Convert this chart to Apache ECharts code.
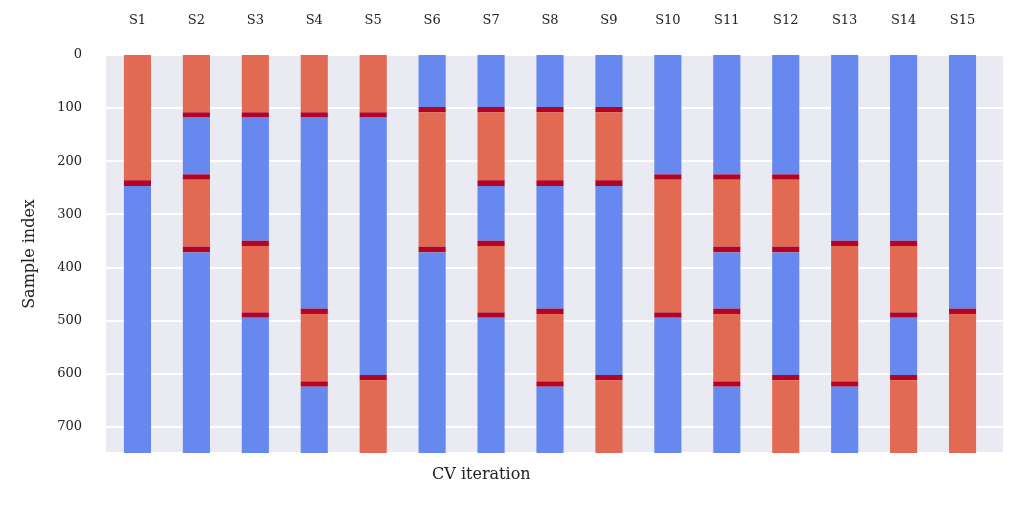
<!DOCTYPE html>
<html>
<head>
<meta charset="utf-8">
<script src="https://cdn.jsdelivr.net/npm/echarts@6/dist/echarts.min.js"></script>
<style>html,body{margin:0;background:#fff}#c{width:1024px;height:512px}</style>
</head>
<body>
<div id="c"></div>
<script>
// splits: boundaries and segment kinds (B = train, R = test, D = purged)
const splits = ['S1','S2','S3','S4','S5','S6','S7','S8','S9','S10','S11','S12','S13','S14','S15']
const bounds = [
  [0,236,247,750],
  [0,108,118,225,235,361,372,750],
  [0,108,118,350,360,485,495,750],
  [0,108,118,478,488,615,625,750],
  [0,108,118,603,613,750],
  [0,98,108,361,372,750],
  [0,98,108,236,247,350,360,485,495,750],
  [0,98,108,236,247,478,488,615,625,750],
  [0,98,108,236,247,603,613,750],
  [0,225,235,485,495,750],
  [0,225,235,361,372,478,488,615,625,750],
  [0,225,235,361,372,603,613,750],
  [0,350,360,615,625,750],
  [0,350,360,485,495,603,613,750],
  [0,478,488,750]
]
const kinds = [
  'RDB','RDBDRDB','RDBDRDB','RDBDRDB','RDBDR','BDRDB','BDRDBDRDB','BDRDBDRDB',
  'BDRDBDR','BDRDB','BDRDBDRDB','BDRDBDR','BDRDB','BDRDBDR','BDR'
]
const yTicks = [0,100,200,300,400,500,600,700]
const colors = {B:'#6788ee', R:'#e26952', D:'#b40426'}

let segs = []
bounds.forEach((b,i) => {
  for(let k=0;k<b.length-1;k++) segs.push([i,b[k],b[k+1],kinds[i][k]])
})

const chart = echarts.init(document.getElementById('c'))
const font = 'DejaVu Serif'
const yBase = {type:'value',inverse:true,min:0,max:750,interval:100,
  axisLine:{show:false},axisTick:{show:false}}
chart.setOption({
  animation:false,
  grid:[{left:106,right:21,top:55,bottom:59},{left:108,right:32,top:55,bottom:59}],
  xAxis:[
    {type:'value',gridIndex:0,show:false,min:0,max:1},
    {type:'category',gridIndex:1,data:splits,position:'top',
      axisLine:{show:false},axisTick:{show:false},splitLine:{show:false},
      axisLabel:{fontFamily:font,fontSize:13,color:'#222',margin:28}}],
  yAxis:[
    Object.assign({gridIndex:0,
      name:'Sample index',nameLocation:'middle',nameGap:68,
      nameTextStyle:{fontFamily:font,fontSize:16,color:'#222'},
      axisLabel:{fontFamily:font,fontSize:13,color:'#222',margin:24,showMaxLabel:false,
        formatter:v => yTicks.includes(v) ? String(v) : ''},
      splitLine:{lineStyle:{color:'#fff',width:2}},
      splitArea:{show:true,areaStyle:{color:['#eaeaf2','#eaeaf2']}}},yBase),
    Object.assign({gridIndex:1,axisLabel:{show:false},splitLine:{show:false}},yBase)],
  graphic:[{type:'text',left:432,top:467,
    style:{text:'CV iteration',font:'16px "DejaVu Serif"',fill:'#222'}}],
  series:[{type:'custom',xAxisIndex:1,yAxisIndex:1,data:segs,encode:{x:0,y:[1,2]},
    renderItem:(params,api) => {
      const p0 = api.coord([api.value(0),api.value(1)])
      const p1 = api.coord([api.value(0),api.value(2)])
      const w = api.size([1,0])[0]*0.46
      return {type:'rect',shape:{x:p0[0]-w/2,y:p0[1],width:w,height:p1[1]-p0[1]},
        style:{fill:colors[segs[params.dataIndex][3]]}}
    }}]
})
</script>
</body>
</html>
